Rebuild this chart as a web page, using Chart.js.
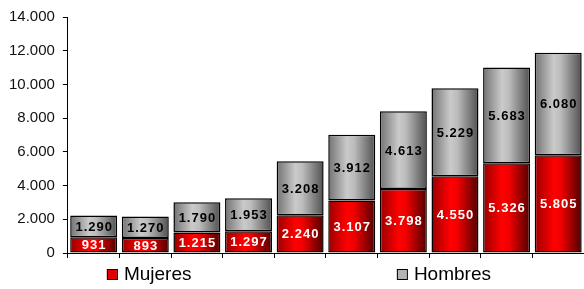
<!DOCTYPE html>
<html>
<head>
<meta charset="utf-8">
<script src="https://cdn.jsdelivr.net/npm/chart.js@4/dist/chart.umd.min.js"></script>
<style>
  html, body { margin: 0; padding: 0; background: #fff; }
  #wrap { width: 584px; height: 289px; }
</style>
</head>
<body>
<div id="wrap"><canvas id="myChart"></canvas></div>
<script>
// datos
const categorias = ['1', '2', '3', '4', '5', '6', '7', '8', '9', '10'];
const mujeres = [931, 893, 1215, 1297, 2240, 3107, 3798, 4550, 5326, 5805];
const hombres = [1290, 1270, 1790, 1953, 3208, 3912, 4613, 5229, 5683, 6080];
const yMax = 14000, yStep = 2000;

const FONT = "'Liberation Sans', Arial, sans-serif";
const BAR_PCT = 0.91;

function fmt(v) {
    return String(Math.round(v)).replace(/\B(?=(\d{3})+(?!\d))/g, '.');
}

// degradado horizontal dentro de cada barra
function barGradient(stops, fallback) {
    return function (c) {
        const chart = c.chart;
        const xs = chart.scales && chart.scales.x;
        if (!xs || c.dataIndex == null || !chart.chartArea) return fallback;
        const cx = xs.getPixelForValue(c.dataIndex);
        const w = xs.width / categorias.length * BAR_PCT;
        const g = chart.ctx.createLinearGradient(cx - w / 2, 0, cx + w / 2, 0);
        stops.forEach(s => g.addColorStop(s[0], s[1]));
        return g;
    };
}

const redStops = [[0, '#9a0000'], [0.4, '#ff0000'], [0.55, '#f20000'], [1, '#500000']];
const grayStops = [[0, '#727272'], [0.4, '#cacaca'], [0.55, '#bcbcbc'], [1, '#505050']];

const valueLabels = {
    id: 'valueLabels',
    afterDatasetsDraw(chart) {
        const ctx = chart.ctx;
        ctx.save();
        ctx.font = 'bold 13px ' + FONT;
        ctx.letterSpacing = '1px';
        ctx.textAlign = 'center';
        ctx.textBaseline = 'middle';
        chart.data.datasets.forEach((ds, i) => {
            const meta = chart.getDatasetMeta(i);
            ctx.fillStyle = i === 0 ? '#ffffff' : '#000000';
            meta.data.forEach((el, j) => {
                const y = (el.y + el.base) / 2;
                ctx.fillText(fmt(ds.data[j]), el.x + 0.5, y + 1);
            });
        });
        ctx.restore();
    }
};

const bottomLegend = {
    id: 'bottomLegend',
    afterDraw(chart) {
        const ctx = chart.ctx;
        const area = chart.chartArea;
        const items = [
            { text: chart.data.datasets[0].label, color: '#e00000', x: area.left + 39 },
            { text: chart.data.datasets[1].label, color: '#b4b4b4', x: area.left + 329 }
        ];
        const y = 274;
        ctx.save();
        ctx.font = '19px ' + FONT;
        ctx.textBaseline = 'middle';
        items.forEach(it => {
            ctx.fillStyle = it.color;
            ctx.fillRect(it.x, y - 5, 10, 10);
            ctx.strokeStyle = '#000';
            ctx.lineWidth = 1;
            ctx.strokeRect(it.x + 0.5, y - 5 + 0.5, 10, 10);
            ctx.fillStyle = '#000';
            ctx.fillText(it.text, it.x + 17, y + 1);
        });
        ctx.restore();
    }
};

const ctx1 = document.getElementById('myChart').getContext('2d');
const myChart = new Chart(ctx1, {
    type: 'bar',
    data: {
        labels: categorias,
        datasets: [
            {
                label: 'Mujeres',
                data: mujeres,
                backgroundColor: barGradient(redStops, '#e00000'),
                borderColor: '#000',
                borderWidth: 1.5,
                borderSkipped: false
            },
            {
                label: 'Hombres',
                data: hombres,
                backgroundColor: barGradient(grayStops, '#b4b4b4'),
                borderColor: '#000',
                borderWidth: 1.5,
                borderSkipped: false
            }
        ]
    },
    options: {
        responsive: true,
        maintainAspectRatio: false,
        animation: false,
        datasets: {
            bar: { barPercentage: BAR_PCT, categoryPercentage: 1 }
        },
        layout: {
            padding: { left: 1, right: 0, top: 17, bottom: 31 }
        },
        scales: {
            x: {
                stacked: true,
                grid: { display: true, drawOnChartArea: false, tickLength: 5, color: '#000', offset: true },
                border: { display: true, color: '#000', width: 1 },
                ticks: { display: false }
            },
            y: {
                stacked: true,
                min: 0,
                max: yMax,
                grid: { drawOnChartArea: false, tickLength: 5, color: '#000' },
                border: { display: true, color: '#000', width: 1 },
                ticks: {
                    stepSize: yStep,
                    padding: 8,
                    color: '#111',
                    font: { family: FONT, size: 15 },
                    callback: v => fmt(v)
                }
            }
        },
        plugins: {
            legend: { display: false },
            tooltip: { enabled: false },
            title: { display: false }
        }
    },
    plugins: [valueLabels, bottomLegend]
});
</script>
</body>
</html>
